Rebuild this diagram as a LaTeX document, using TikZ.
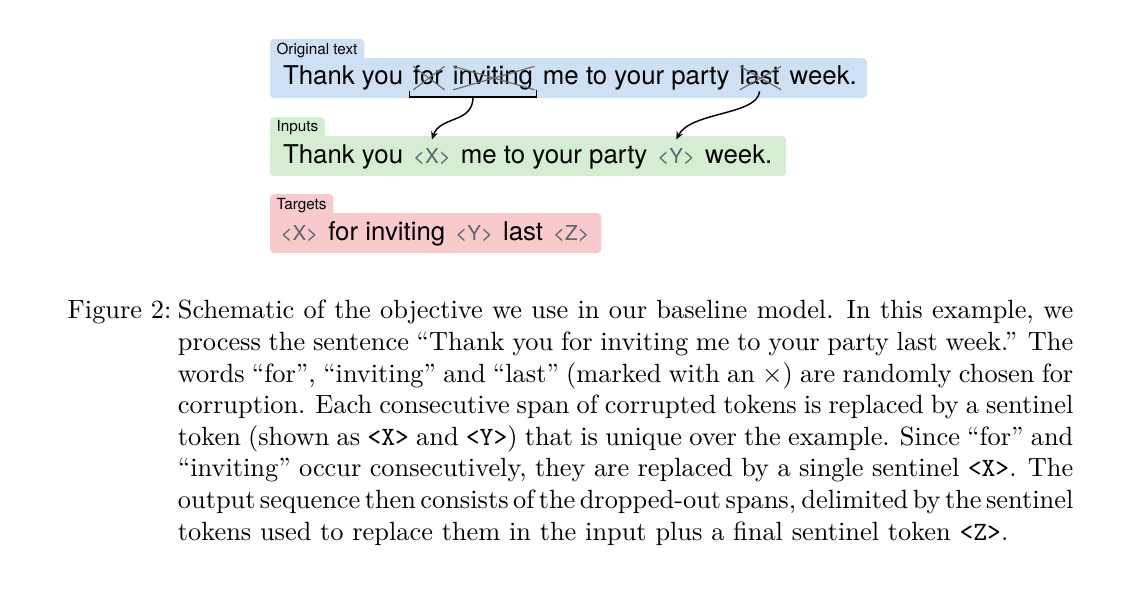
\documentclass[tikz,border=0pt]{standalone}
\usepackage{fontspec}
\newfontfamily\helv{TeX Gyre Heros}
\usetikzlibrary{arrows.meta,calc,backgrounds}
\definecolor{bluebox}{RGB}{206,224,244}
\definecolor{greenbox}{RGB}{213,238,211}
\definecolor{redbox}{RGB}{248,202,203}
\definecolor{tokgray}{RGB}{92,99,110}
\definecolor{crossgray}{RGB}{110,110,110}
\def\wgap{3.4pt}
\def\tgap{3.4pt}
\begin{document}
\begin{tikzpicture}[x=0.3795pt,y=-0.3795pt,
  word/.style={anchor=base west, inner sep=0pt, font=\helv\fontsize{9.8}{12}\selectfont},
  tok/.style={anchor=base west, inner sep=0pt, font=\helv\fontsize{7.8}{9}\selectfont, text=tokgray},
  lab/.style={anchor=base west, inner sep=0pt, font=\helv\fontsize{5.8}{7}\selectfont},
  cross/.style={draw=crossgray, line width=0.45pt},
  brk/.style={draw=black, line width=0.5pt},
  conn/.style={draw=black, line width=0.55pt, -{Stealth[length=3pt,width=2.6pt]}},
  boxr/.style={rounded corners=1.5pt},
  captext/.style={inner sep=0pt, font=\rmfamily\fontsize{10}{12}\selectfont}]
\useasboundingbox (0,0) rectangle (1146,596);

% Original text
\node[lab] (lo) at (276,54.3) {Original text};
\node[word] (o1) at (282.5,84.5) {Thank you};
\node[word] (ofor) at ([xshift=\wgap]o1.base east) {for};
\node[word] (oinv) at ([xshift=\wgap]ofor.base east) {inviting};
\node[word] (o2) at ([xshift=\wgap]oinv.base east) {me to your party};
\node[word] (olast) at ([xshift=\wgap]o2.base east) {last};
\node[word] (o3) at ([xshift=\wgap]olast.base east) {week.};

% Inputs
\node[lab] (li) at (276,131.8) {Inputs};
\node[word] (i1) at (282.5,163) {Thank you};
\node[tok] (ix) at ([xshift=\tgap]i1.base east) {<X>};
\node[word] (i2) at ([xshift=\tgap]ix.base east) {me to your party};
\node[tok] (iy) at ([xshift=\tgap]i2.base east) {<Y>};
\node[word] (i3) at ([xshift=\tgap]iy.base east) {week.};

% Targets
\node[lab] (lt) at (276,209.5) {Targets};
\node[tok] (tx) at (280,240.5) {<X>};
\node[word] (t1) at ([xshift=\tgap]tx.base east) {for inviting};
\node[tok] (ty) at ([xshift=\tgap]t1.base east) {<Y>};
\node[word] (t2) at ([xshift=\tgap]ty.base east) {last};
\node[tok] (tz) at ([xshift=\tgap]t2.base east) {<Z>};

% boxes
\begin{scope}[on background layer]
  \coordinate (loE) at ([xshift=2.4pt]lo.base east);
  \coordinate (liE) at ([xshift=2.4pt]li.base east);
  \coordinate (ltE) at ([xshift=2.4pt]lt.base east);
  \coordinate (oE) at ([xshift=3.6pt]o3.base east);
  \coordinate (iE) at ([xshift=5pt]i3.base east);
  \coordinate (tE) at ([xshift=4.2pt]tz.base east);
  \coordinate (y1t) at (0,64);
  \coordinate (y1b) at (0,98);
  \coordinate (y2t) at (0,142);
  \coordinate (y2b) at (0,176);
  \coordinate (y3t) at (0,219);
  \coordinate (y3b) at (0,253);
  \fill[bluebox, boxr] (270,39) rectangle (loE |- y1t);
  \fill[bluebox, boxr] (270,58) rectangle (oE |- y1b);
  \fill[greenbox, boxr] (270,117) rectangle (liE |- y2t);
  \fill[greenbox, boxr] (270,136) rectangle (iE |- y2b);
  \fill[redbox, boxr] (270,194) rectangle (ltE |- y3t);
  \fill[redbox, boxr] (270,213) rectangle (tE |- y3b);
\end{scope}

% crosses
\foreach \w in {ofor,oinv,olast}{
  \draw[cross] ([xshift=0.3pt,yshift=6.9pt]\w.base west) -- ([xshift=0.4pt,yshift=-2pt]\w.base east);
  \draw[cross] ([xshift=0.3pt,yshift=-2pt]\w.base west) -- ([xshift=0.4pt,yshift=6.9pt]\w.base east);
}

% bracket and connectors
\coordinate (bl) at ([xshift=-1.2pt,yshift=-4.7pt]ofor.base west);
\coordinate (br) at ([xshift=1.2pt,yshift=-4.7pt]oinv.base east);
\coordinate (bm) at ($(bl)!0.5!(br)$);
\draw[brk] ([yshift=2.4pt]bl) -- (bl) -- (br) -- ([yshift=2.6pt]br);
\coordinate (ls) at ([yshift=-2.6pt]olast.base);
\draw[conn] (bm) .. controls +(0,27) and +(8,-24) .. ([yshift=3pt]ix.north);
\draw[conn] (ls) .. controls +(-2,24) and +(14,-28) .. ([yshift=3pt]iy.north);

% caption
\node[captext, anchor=base west] (fig) at (67.2,318) {Figure 2:};
\node[captext, anchor=north west, text width=339.8pt, align=justify] (cap) at (177.4,299.7)
{\hyphenpenalty=10000 \exhyphenpenalty=10000 \tolerance=9999
\spaceskip=3.33pt plus 1.67pt minus 1.7pt
\xspaceskip=4.44pt plus 3.33pt minus 1.7pt
Schematic of the objective we use in our baseline model. In this example, we\linebreak
process the sentence “Thank you for inviting me to your party last week.” The\linebreak
words “for”, “inviting” and “last” (marked with an $\times$) are randomly chosen for\linebreak
corruption. Each consecutive span of corrupted tokens is replaced by a sentinel\linebreak
token (shown as \texttt{<X>} and \texttt{<Y>}) that is unique over the example. Since “for” and\linebreak
“inviting” occur consecutively, they are replaced by a single sentinel \texttt{<X>}. The\linebreak
output sequence then consists of the dropped-out spans, delimited by the sentinel\linebreak
tokens used to replace them in the input plus a final sentinel token \texttt{<Z>}.};
\end{tikzpicture}
\end{document}
